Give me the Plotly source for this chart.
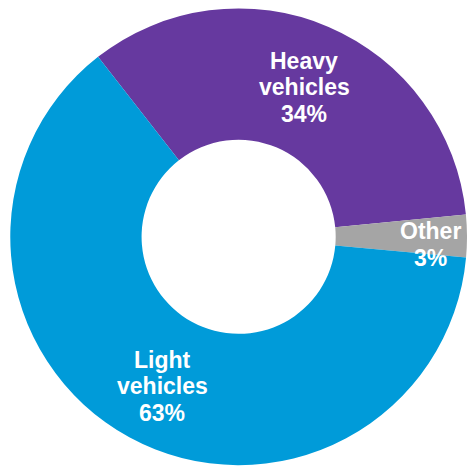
import math
import plotly.graph_objects as go

categories = ["Heavy vehicles", "Other", "Light vehicles"]
shares = [34, 3, 63]
colors = ["#66399f", "#a5a5a5", "#009bd9"]
label_radius = [0.715, 0.84, 0.735]   # fraction of outer radius where each label sits
label_turn = [0.5, 2.5, -1.5]         # small angular nudge (deg) from the slice middle

W, H = 467, 468
dom_x = [0.022, 1.0]
dom_y = [0.005, 0.983]
hole = 0.425
rotation = -38

fig = go.Figure(go.Pie(
    labels=categories,
    values=shares,
    marker=dict(colors=colors, line=dict(width=0)),
    hole=hole,
    sort=False,
    direction="clockwise",
    rotation=rotation,
    textinfo="none",
    hoverinfo="label+percent",
    showlegend=False,
    domain=dict(x=dom_x, y=dom_y),
))

# geometry of the pie in pixels, to place the labels
R = min((dom_x[1] - dom_x[0]) * W, (dom_y[1] - dom_y[0]) * H) / 2
cx = (dom_x[0] + dom_x[1]) / 2
cy = (dom_y[0] + dom_y[1]) / 2
total = sum(shares)
start = rotation
line_gap = 26.5
for cat, v, rf, turn in zip(categories, shares, label_radius, label_turn):
    span = 360 * v / total
    mid = math.radians(start + span / 2 + turn)
    start += span
    dx = R * rf * math.sin(mid)
    dy = R * rf * math.cos(mid)
    lines = cat.split(" ") + [f"{v}%"]
    n = len(lines)
    for i, t in enumerate(lines):
        off = ((n - 1) / 2 - i) * line_gap
        fig.add_annotation(
            x=cx, y=cy, xref="paper", yref="paper",
            xshift=dx, yshift=dy + off,
            text=f"<b>{t}</b>", showarrow=False,
            xanchor="center", yanchor="middle",
            font=dict(family="Liberation Sans, Arial, sans-serif", size=23, color="white"),
        )

fig.update_layout(
    width=W, height=H,
    margin=dict(l=0, r=0, t=0, b=0),
    paper_bgcolor="white",
    plot_bgcolor="white",
)

# remove the default page margin so the figure fills the window exactly
fig.write_html(
    "out.html",
    config={"displayModeBar": False},
    post_script="document.body.style.margin='0';document.body.style.overflow='hidden';",
)
